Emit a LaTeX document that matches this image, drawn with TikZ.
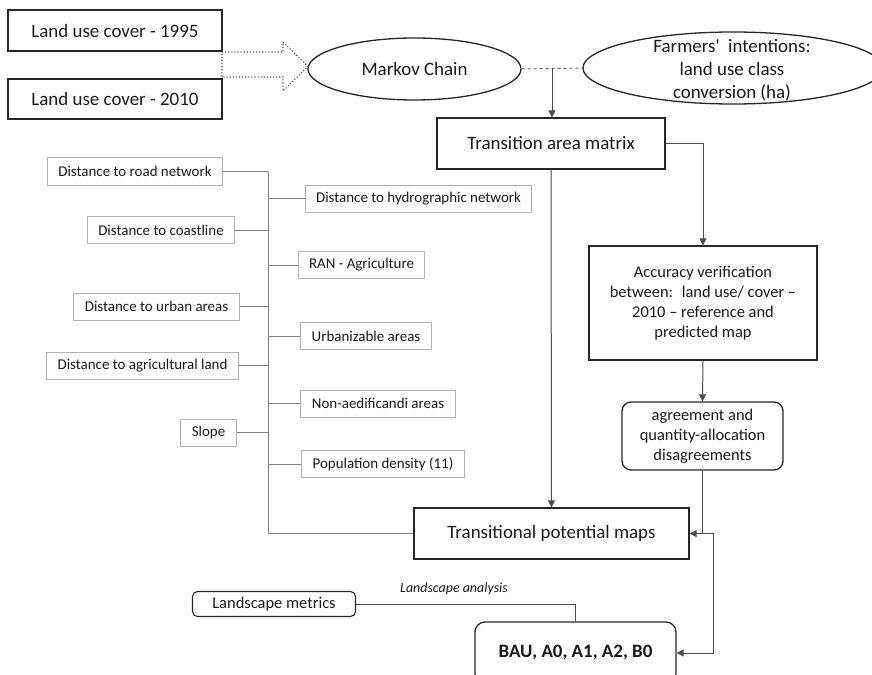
\documentclass[tikz,border=0pt]{standalone}
\usepackage{fontspec}
\setmainfont{Carlito}[Ligatures=TeXOff]
\usetikzlibrary{shapes.geometric,arrows.meta}

\begin{document}
\begin{tikzpicture}[x=1bp,y=-1bp,
	box/.style={draw=black!85,line width=1.3bp,text=black!90,inner sep=0pt,font=\fontsize{19}{23}\selectfont},
	factor/.style={draw=black!30,line width=1bp,text=black!90,inner xsep=11bp,inner ysep=0pt,minimum height=27bp,font=\fontsize{15}{18}\selectfont},
	link/.style={draw=black!50,line width=1bp},
	flow/.style={draw=black!70,line width=1bp,-{Triangle[length=7bp,width=7bp]}}]

	\useasboundingbox (0,0) rectangle (872,675);

	\node[box,minimum width=214bp,minimum height=41bp] (lu95) at (115,30.5) {Land use cover - 1995};
	\node[box,minimum width=214bp,minimum height=40bp] (lu10) at (115,99)   {Land use cover - 2010};

	\node[box,shape=ellipse,minimum width=213bp,minimum height=62bp] (markov)  at (414.5,69) {Markov Chain};
	\node[box,shape=ellipse,minimum width=300bp,minimum height=72bp] (farmers) at (733,68)   {};
	\node[align=center,text=black!90,font=\fontsize{19}{23}\selectfont] (farmerstxt) at (732,70) {Farmers'~ intentions:\\land use class\\conversion (ha)};

	\node[box,minimum width=228bp,minimum height=51bp] (trans) at (551,143.5) {Transition area matrix};
	\node[box,align=center,minimum width=228bp,minimum height=114bp,font=\fontsize{16.5}{20}\selectfont] (accuracy) at (703,303)
		{Accuracy verification\\between:~ land use/ cover –\\2010 – reference and\\predicted map};
	\node[box,rounded corners=9bp,align=center,minimum width=161bp,minimum height=68bp,font=\fontsize{16.5}{20}\selectfont] (agree) at (702.5,436)
		{agreement and\\quantity-allocation\\disagreements};
	\node[box,minimum width=275bp,minimum height=51bp] (tpm) at (551.5,533.5) {Transitional potential maps};

	\node[box,rounded corners=5bp,line width=1.1bp,minimum width=163bp,minimum height=25bp,font=\fontsize{16.5}{20}\selectfont] (metrics) at (274,604) {Landscape metrics};
	\node[box,rounded corners=10bp,minimum width=201bp,minimum height=62bp,font=\bfseries\fontsize{19}{23}\selectfont] (bau) at (575.5,653) {BAU, A0, A1, A2, B0};
	\node[text=black!90,font=\itshape\fontsize{14}{17}\selectfont] (analysis) at (454,589) {Landscape analysis};

	% driver variables
	\node[factor] (road)   at (135,171.5) {Distance to road network};
	\node[factor] (coast)  at (161,230)   {Distance to coastline};
	\node[factor] (urban)  at (156.5,306.5) {Distance to urban areas};
	\node[factor] (agri)   at (142.5,365.5) {Distance to agricultural land};
	\node[factor] (slope)  at (208.5,432.5) {Slope};
	\node[factor] (hydro)  at (418.5,198.5) {Distance to hydrographic network};
	\node[factor] (ran)    at (361.5,265)   {RAN - Agriculture};
	\node[factor] (urbz)   at (366,336)     {Urbanizable areas};
	\node[factor] (nonaed) at (378,403.5)   {Non-aedificandi areas};
	\node[factor] (pop)    at (383,464)     {Population density (11)};
	\coordinate (trunk) at (268,0);

	% inputs to the chain
	\draw[dotted,draw=black!70,line width=1.1bp] (222,52) -- (283,52) -- (283,42) -- (308,66.5) -- (283,91) -- (283,77) -- (222,77) -- cycle;
	\draw[dashed,draw=black!60,line width=1bp] (markov.east) -- (farmers.west) coordinate[pos=0.5] (mid);

	\draw[flow] (mid) -- (mid |- trans.north);
	\draw[flow] (trans.east) -| (accuracy.north);
	\draw[flow] (trans.south) -- (tpm.north);
	\draw[flow] (accuracy.south) -- (agree.north);
	\draw[flow] (agree.south) |- (tpm.east);
	\draw[flow] (agree.south |- tpm.east) -- ++(11,0) |- (bau.east);
	\draw[draw=black!70,line width=1bp] (metrics.east) -| (bau.north);

	% trunk of the driver variables
	\draw[link] (road.east -| trunk) |- (tpm.west);
	\draw[link] (road.east)  -- (road.east -| trunk);
	\draw[link] (coast.east) -- (coast.east -| trunk);
	\draw[link] (urban.east) -- (urban.east -| trunk);
	\draw[link] (agri.east)  -- (agri.east -| trunk);
	\draw[link] (slope.east) -- (slope.east -| trunk);
	\draw[link] (hydro.west)  -- (hydro.west -| trunk);
	\draw[link] (ran.west)    -- (ran.west -| trunk);
	\draw[link] (urbz.west)   -- (urbz.west -| trunk);
	\draw[link] (nonaed.west) -- (nonaed.west -| trunk);
	\draw[link] (pop.west)    -- (pop.west -| trunk);

\end{tikzpicture}
\end{document}
